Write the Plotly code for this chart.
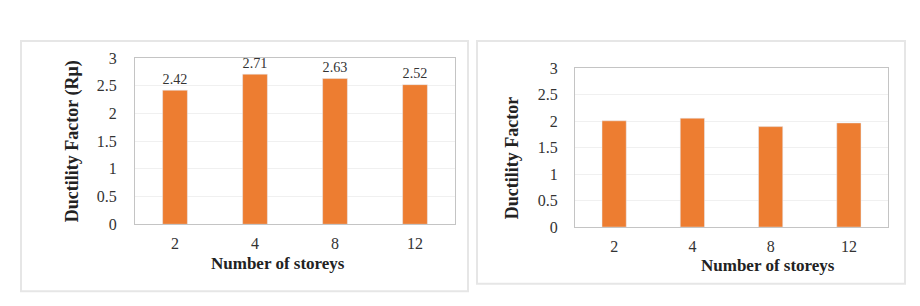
import plotly.graph_objects as go

storeys = ["2", "4", "8", "12"]
ductility_a = [2.42, 2.71, 2.63, 2.52]
ductility_b = [2.01, 2.06, 1.90, 1.97]
label_a = ["2.42", "2.71", "2.63", "2.52"]
y_ticks = [0, 0.5, 1, 1.5, 2, 2.5, 3]
y_ticktext = ["0", "0.5", "1", "1.5", "2", "2.5", "3"]

W, H = 920, 306
BAR = "#ED7D31"
FONT = "Liberation Serif"
TXT = "#333333"

def px(x):
    return x / W

def py(y):
    return 1 - y / H

fig = go.Figure()
fig.add_trace(go.Bar(x=storeys, y=ductility_a, marker_color=BAR, width=0.31,
                     text=label_a, textposition="outside", cliponaxis=False,
                     textfont=dict(family=FONT, size=17, color=TXT),
                     xaxis="x", yaxis="y", showlegend=False))
fig.add_trace(go.Bar(x=storeys, y=ductility_b, marker_color=BAR, width=0.31,
                     xaxis="x2", yaxis="y2", showlegend=False))

axis_common = dict(showline=True, linecolor="#c4c4c4", linewidth=1, mirror=True,
                   tickfont=dict(family=FONT, size=16, color=TXT))
xtick = dict(ticks="outside", ticklen=5, tickcolor="rgba(0,0,0,0)")
fig.update_layout(
    width=W, height=H, margin=dict(l=0, r=0, t=0, b=0),
    paper_bgcolor="white", plot_bgcolor="white",
    bargap=0.69,
    xaxis=dict(domain=[px(135), px(455)], anchor="y", **xtick, **axis_common),
    yaxis=dict(domain=[py(229), py(53)], anchor="x", range=[0, 3], tickvals=y_ticks,
               ticktext=y_ticktext, showgrid=True, gridcolor="#f0f0f0", ticks="",
               ticklabelstandoff=14, **axis_common),
    xaxis2=dict(domain=[px(575), px(888)], anchor="y2", **xtick, **axis_common),
    yaxis2=dict(domain=[py(232), py(64)], anchor="x2", range=[0, 3], tickvals=y_ticks,
                ticktext=y_ticktext, showgrid=True, gridcolor="#f0f0f0", ticks="",
                ticklabelstandoff=13, **axis_common),
)

# panel cards
for x0, y0, x1, y1 in [(21, 35, 468, 300), (477, 35, 905, 292)]:
    fig.add_shape(type="rect", xref="paper", yref="paper",
                  x0=px(x0), x1=px(x1), y0=py(y1), y1=py(y0),
                  line=dict(color="#e6e6e6", width=2), fillcolor="rgba(0,0,0,0)",
                  layer="below")

title_font = dict(family=FONT, size=17, color="#222222")
fig.add_annotation(text="<b>Ductility Factor (Rμ)</b>", xref="paper", yref="paper",
                   x=px(72), y=py(141), textangle=-90, showarrow=False,
                   font=dict(family=FONT, size=18, color="#222222"),
                   xanchor="center", yanchor="middle")
fig.add_annotation(text="<b>Number of storeys</b>", xref="paper", yref="paper",
                   x=px(278), y=py(271), showarrow=False,
                   font=title_font, xanchor="center", yanchor="middle")
fig.add_annotation(text="<b>Ductility Factor</b>", xref="paper", yref="paper",
                   x=px(512), y=py(159), textangle=-90, showarrow=False,
                   font=dict(family=FONT, size=18, color="#222222"),
                   xanchor="center", yanchor="middle")
fig.add_annotation(text="<b>Number of storeys</b>", xref="paper", yref="paper",
                   x=px(768), y=py(273), showarrow=False,
                   font=title_font, xanchor="center", yanchor="middle")

fig.write_html("out.html")
